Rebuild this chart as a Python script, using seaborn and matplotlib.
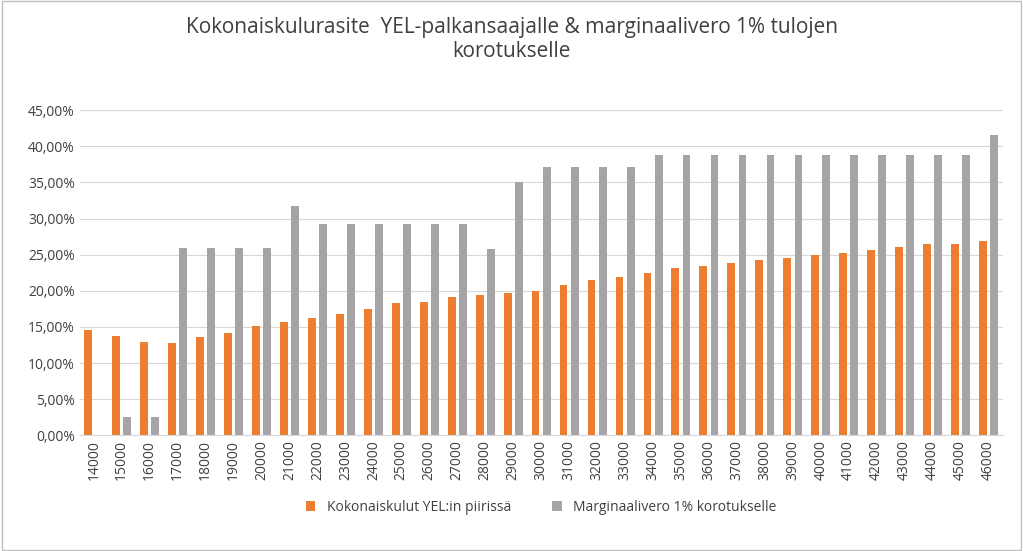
import matplotlib
matplotlib.use('Agg')
import matplotlib.pyplot as plt
import seaborn as sns
import pandas as pd
from matplotlib.ticker import FuncFormatter

tulot = list(range(14000, 47000, 1000))
kokonaiskulut = [14.6, 13.75, 12.9, 12.8, 13.6, 14.2, 15.1, 15.7, 16.25, 16.8, 17.5,
                 18.3, 18.5, 19.2, 19.4, 19.7, 20.0, 20.8, 21.5, 21.9, 22.4, 23.2,
                 23.5, 23.9, 24.3, 24.6, 25.0, 25.3, 25.7, 26.1, 26.5, 26.5, 26.9]
marginaalivero = [0, 2.5, 2.5, 25.9, 25.9, 25.9, 25.9, 31.8, 29.3, 29.3, 29.3,
                  29.3, 29.3, 29.3, 25.8, 35.0, 37.1, 37.1, 37.1, 37.1, 38.8, 38.8,
                  38.8, 38.8, 38.8, 38.8, 38.8, 38.8, 38.8, 38.8, 38.8, 38.8, 41.5]

s1 = "Kokonaiskulut YEL:in piirissä"
s2 = "Marginaalivero 1% korotukselle"
df = pd.DataFrame({"tulot": [str(t) for t in tulot] * 2,
                   "arvo": kokonaiskulut + marginaalivero,
                   "sarja": [s1] * len(tulot) + [s2] * len(tulot)})

plt.rcParams['font.family'] = 'Open Sans'
fig, ax = plt.subplots(figsize=(10.23, 5.51), dpi=100)
sns.barplot(data=df, x="tulot", y="arvo", hue="sarja", ax=ax,
            palette=["#ED7D31", "#A5A5A5"], width=0.8, gap=0.3, saturation=1)
ax.set_ylim(0, 45)
ax.set_yticks(range(0, 46, 5))
ax.yaxis.set_major_formatter(FuncFormatter(lambda v, p: f"{v:.2f}%".replace(".", ",")))
ax.grid(axis='y', color='#D9D9D9', linewidth=0.8)
ax.set_axisbelow(True)
for s in ['top', 'right', 'left']:
    ax.spines[s].set_visible(False)
ax.spines['bottom'].set_color('#D9D9D9')
ax.tick_params(axis='both', length=0, labelsize=10, colors='#404040')
ax.tick_params(axis='x', rotation=90)
ax.set_xlabel("")
ax.set_ylabel("")
fig.suptitle("Kokonaiskulurasite  YEL-palkansaajalle & marginaalivero 1% tulojen\nkorotukselle",
             fontsize=15, color='#404040', y=0.97)
ax.legend(loc='upper center', bbox_to_anchor=(0.5, -0.16), ncol=2, frameon=False,
          fontsize=10, handlelength=0.7, handleheight=0.7, columnspacing=3,
          labelcolor='#404040')
plt.subplots_adjust(left=0.078, right=0.98, top=0.80, bottom=0.21)
fig.patches.append(plt.Rectangle((0.002, 0.002), 0.996, 0.996, transform=fig.transFigure,
                                 fill=False, edgecolor='#BFBFBF', linewidth=1))
fig.savefig("out.png")
